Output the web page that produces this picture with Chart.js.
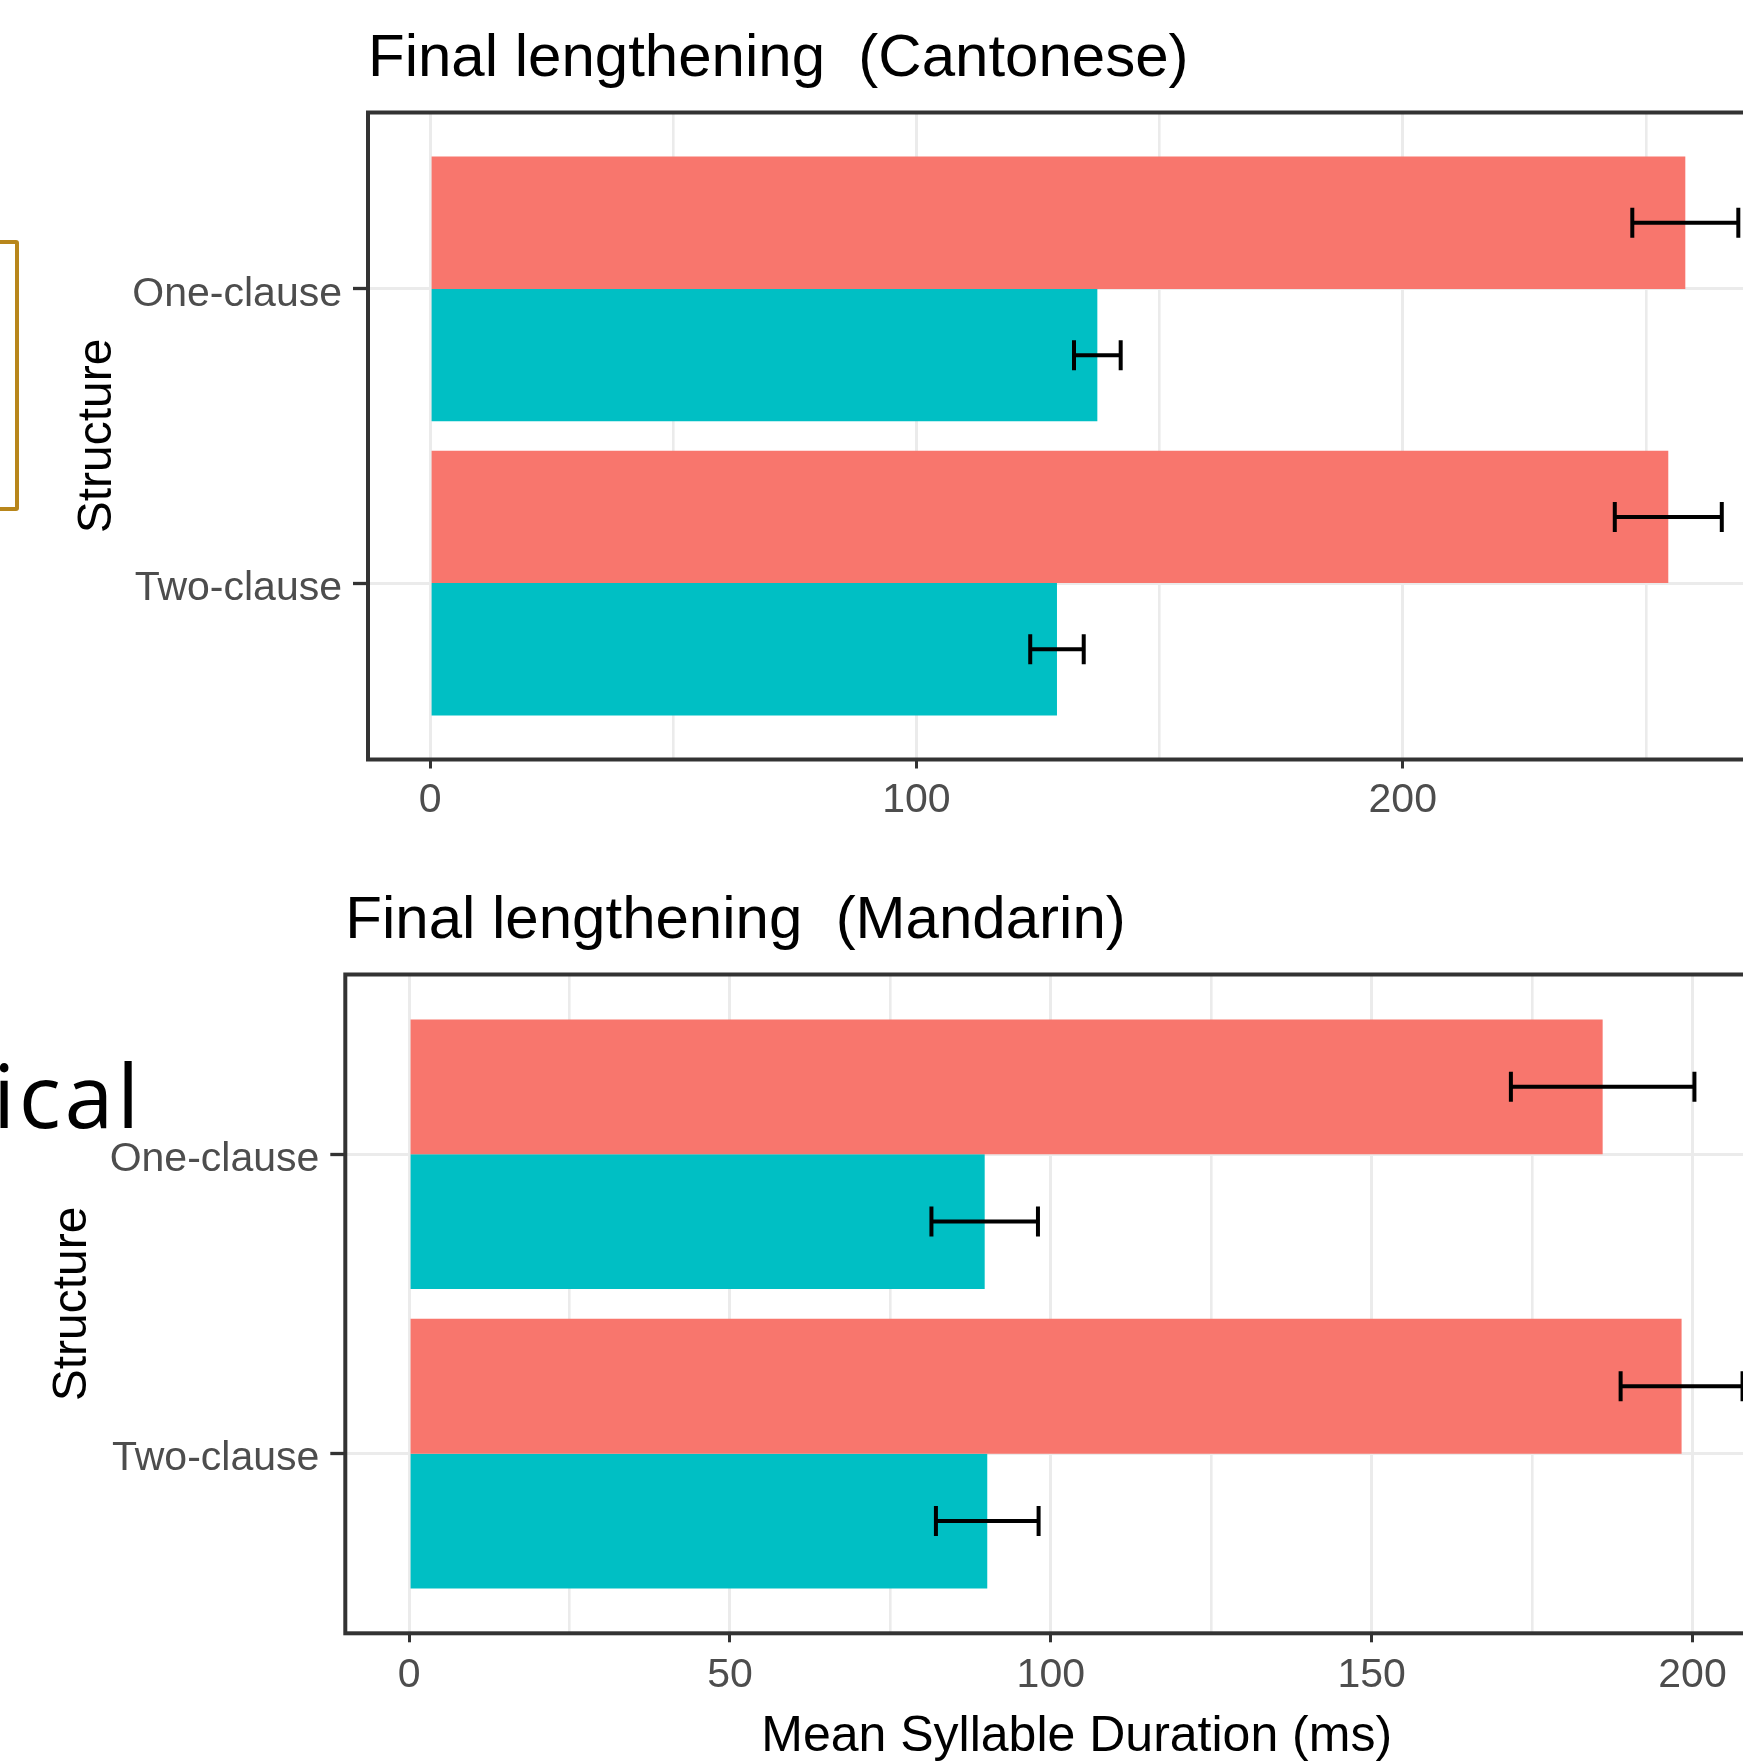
<!DOCTYPE html>
<html><head><meta charset="utf-8">
<script src="https://cdn.jsdelivr.net/npm/chart.js@4"></script>
<style>
html,body{margin:0;padding:0;background:#fff;overflow:hidden;width:1743px;height:1764px;position:relative}
canvas{position:absolute;left:0}
#c1{top:0}
#c2{top:880px}
#bracket{position:absolute;left:-50px;top:240px;width:69px;height:271px;box-sizing:border-box;border:4px solid #B8861B;border-radius:3px}
#word{position:absolute;left:-7px;top:1050px;font-family:"Open Sans",sans-serif;font-size:88px;line-height:88px;letter-spacing:3.6px;color:#000;white-space:nowrap;z-index:5}
</style></head><body>
<div id="bracket"></div>
<canvas id="c1" width="1900" height="860" style="width:1900px;height:860px"></canvas>
<canvas id="c2" width="1900" height="900" style="width:1900px;height:900px"></canvas>
<div id="word">ical</div>
<script>
// ---- data ----
const categories = ['One-clause', 'Two-clause'];
const categoryPositions = [1, 2];
const seriesNames = ['Final', 'Non-final'];

const cantoneseFinal = [258.1, 254.6];
const cantoneseFinalErr = [10.9, 11.0];
const cantoneseNonFinal = [137.2, 128.9];
const cantoneseNonFinalErr = [4.8, 5.5];

const mandarinFinal = [186.0, 198.3];
const mandarinFinalErr = [14.3, 9.5];
const mandarinNonFinal = [89.7, 90.1];
const mandarinNonFinalErr = [8.3, 8.0];

const cantoneseTicks = [0, 50, 100, 150, 200, 250];
const cantoneseTickLabels = ['0', '', '100', '', '200', ''];
const mandarinTicks = [0, 25, 50, 75, 100, 125, 150, 175, 200];
const mandarinTickLabels = ['0', '', '50', '', '100', '', '150', '', '200'];

// ---- styling ----
const FONT = '"Liberation Sans", Arial, Helvetica, sans-serif';
const RED = '#F8766D', TEAL = '#00BFC4';

const errorBarPlugin = {
  id: 'errorBars',
  afterDatasetsDraw(chart) {
    const ctx = chart.ctx, xs = chart.scales.x, a = chart.chartArea;
    ctx.save();
    ctx.beginPath(); ctx.rect(a.left, a.top, a.right - a.left, a.bottom - a.top); ctx.clip();
    ctx.strokeStyle = '#000'; ctx.lineWidth = 4; ctx.lineCap = 'butt';
    chart.data.datasets.forEach((ds, di) => {
      const meta = chart.getDatasetMeta(di);
      meta.data.forEach((bar, i) => {
        const v = ds.data[i].x, e = ds.errors[i];
        const x1 = xs.getPixelForValue(v - e), x2 = xs.getPixelForValue(v + e);
        const y = bar.y, h = 15;
        ctx.beginPath();
        ctx.moveTo(x1, y); ctx.lineTo(x2, y);
        ctx.moveTo(x1, y - h); ctx.lineTo(x1, y + h);
        ctx.moveTo(x2, y - h); ctx.lineTo(x2, y + h);
        ctx.stroke();
      });
    });
    ctx.restore();
  }
};

const borderPlugin = {
  id: 'panelBorder',
  afterDraw(chart) {
    const ctx = chart.ctx, a = chart.chartArea;
    ctx.save();
    ctx.strokeStyle = '#333333'; ctx.lineWidth = 4;
    ctx.strokeRect(a.left, a.top, a.right - a.left, a.bottom - a.top);
    ctx.restore();
  }
};

function build(id, spec) {
  const toPts = arr => arr.map((v, i) => ({x: v, y: categoryPositions[i]}));
  const isMajor = v => spec.tickLabels[spec.ticks.indexOf(v)] !== '';
  return new Chart(document.getElementById(id), {
    type: 'bar',
    data: {
      datasets: [
        {label: seriesNames[0], data: toPts(spec.final), errors: spec.finalErr, backgroundColor: RED,
         categoryPercentage: 0.9, barPercentage: 1.0, borderWidth: 0},
        {label: seriesNames[1], data: toPts(spec.nonFinal), errors: spec.nonFinalErr, backgroundColor: TEAL,
         categoryPercentage: 0.9, barPercentage: 1.0, borderWidth: 0}
      ]
    },
    options: {
      indexAxis: 'y', responsive: false, animation: false, devicePixelRatio: 1,
      layout: {padding: {left: 0, top: 0, right: spec.padRight, bottom: 0}},
      plugins: {
        legend: {display: false}, tooltip: {enabled: false},
        title: {display: true, text: spec.title, align: 'start', fullSize: false, color: '#000',
          font: {family: FONT, size: 60, weight: 'normal', lineHeight: 1.2},
          padding: {top: spec.titlePadTop, bottom: spec.titlePadBottom}}
      },
      scales: {
        x: {
          type: 'linear', position: 'bottom', min: spec.xMin, max: spec.xMax,
          afterBuildTicks: s => { s.ticks = spec.ticks.map(v => ({value: v})); },
          afterFit: s => { s.height = spec.xHeight; },
          ticks: {autoSkip: false, maxRotation: 0, minRotation: 0, padding: spec.xTickPad, color: '#4D4D4D',
            font: {family: FONT, size: 41, lineHeight: 1.2},
            callback: v => spec.tickLabels[spec.ticks.indexOf(v)]},
          grid: {color: '#EBEBEB', lineWidth: c => (c.tick && isMajor(c.tick.value)) ? 3 : 2.6,
            tickLength: 9, tickWidth: 3,
            tickColor: c => (c.tick && isMajor(c.tick.value)) ? '#333333' : 'rgba(0,0,0,0)'},
          border: {display: false},
          title: spec.xTitle ? {display: true, text: spec.xTitle, color: '#000',
            font: {family: FONT, size: 50, weight: 'normal', lineHeight: 1.2},
            padding: {top: 0, bottom: spec.xTitlePadBottom}} : {display: false}
        },
        y: {
          type: 'linear', position: 'left', reverse: true, min: 0.4, max: 2.6, offset: false,
          afterBuildTicks: s => { s.ticks = categoryPositions.map(v => ({value: v})); },
          afterFit: s => { s.width = spec.yWidth; },
          ticks: {autoSkip: false, padding: 11, labelOffset: 5.5, color: '#4D4D4D',
            font: {family: FONT, size: 41, lineHeight: 1.2},
            callback: v => categories[categoryPositions.indexOf(v)]},
          grid: {offset: false, color: '#EBEBEB', lineWidth: 3, tickLength: 15, tickWidth: 3.3, tickColor: '#333333'},
          border: {display: false},
          title: {display: true, text: 'Structure', color: '#000',
            font: {family: FONT, size: 48, weight: 'normal', lineHeight: 1.2},
            padding: {top: spec.yTitlePad, bottom: 0}}
        }
      }
    },
    plugins: [errorBarPlugin, borderPlugin]
  });
}

build('c1', {
  title: 'Final lengthening  (Cantonese)',
  final: cantoneseFinal, finalErr: cantoneseFinalErr,
  nonFinal: cantoneseNonFinal, nonFinalErr: cantoneseNonFinalErr,
  ticks: cantoneseTicks, tickLabels: cantoneseTickLabels,
  xMin: -12.77, xMax: 282.3, padRight: 97, xHeight: 100.5, xTickPad: 8,
  titlePadTop: 23.2, titlePadBottom: 17.3, yWidth: 368, yTitlePad: 69,
  xTitle: null
});

build('c2', {
  title: 'Final lengthening  (Mandarin)',
  final: mandarinFinal, finalErr: mandarinFinalErr,
  nonFinal: mandarinNonFinal, nonFinalErr: mandarinNonFinalErr,
  ticks: mandarinTicks, tickLabels: mandarinTickLabels,
  xMin: -9.94, xMax: 218.0, padRight: 92, xHeight: 146.7, xTickPad: 9,
  titlePadTop: 5.2, titlePadBottom: 17.3, yWidth: 345.3, yTitlePad: 43.5,
  xTitle: 'Mean Syllable Duration (ms)', xTitlePadBottom: 12.3
});
</script>
</body></html>
